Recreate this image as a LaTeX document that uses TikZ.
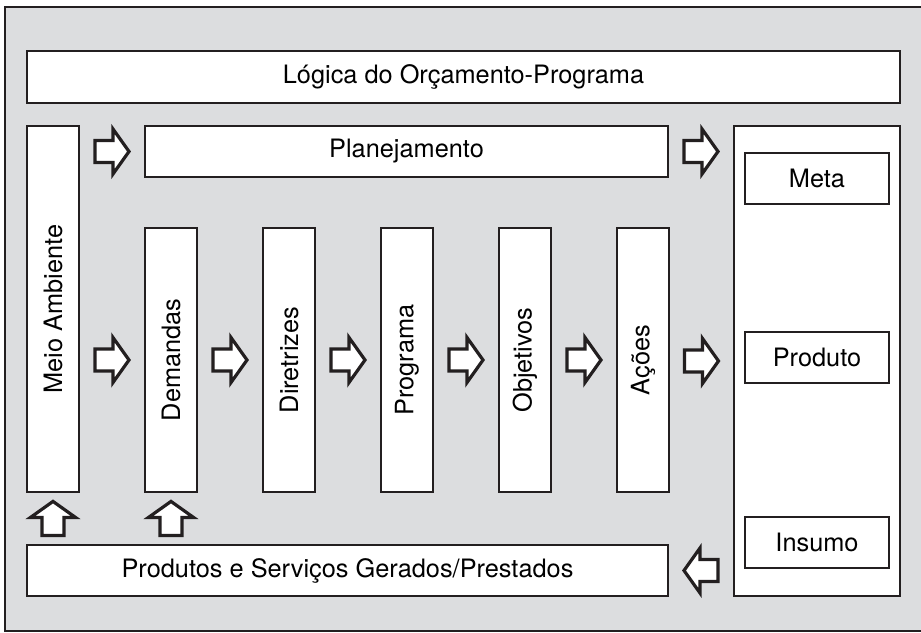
\documentclass[tikz,border=0pt]{standalone}
\usepackage{fontspec}
\setmainfont{TeX Gyre Heros}
\usepackage{graphicx}
\usetikzlibrary{calc}
\definecolor{bggray}{HTML}{DCDDDF}
\definecolor{linegray}{HTML}{231F20}

\tikzset{
  box/.style={draw=linegray, fill=white, line width=1.5pt, inner sep=0pt,
    font=\fontsize{19}{23}\selectfont},
  hbox/.style={box, minimum width=#1, minimum height=38.5pt},
  vbox/.style={box, minimum width=39pt, minimum height=198pt},
  arrowline/.style={draw=linegray, fill=white, line width=2.4pt, line join=miter},
  rarrow/.pic={
    \path[arrowline] (-17,-11) -- (1,-11) -- (1,-22.5) -- (17,0)
      -- (1,22.5) -- (1,11) -- (-17,11) -- cycle;
  }
}

\begin{document}
\begin{tikzpicture}[x=0.75pt, y=-0.75pt]
    \useasboundingbox (0,0) rectangle (921,632);
    % Background frame
    \draw[fill=bggray, draw=linegray, line width=1.5pt] (5,7) rectangle (926,631);

    % Header
    \node[hbox=654.75pt] (logica) at (463.5,77) {Lógica do Orçamento-Programa};

    % Left column and planning bar
    \node[box, minimum width=39pt, minimum height=274.5pt] (meio) at (53,309)
        {\rotatebox{90}{Meio Ambiente}};
    \node[hbox=392.25pt] (plan) at (406.5,151.5) {Planejamento};

    % Chain of vertical boxes
    \foreach \name/\txt [count=\i] in {demandas/Demandas, diretrizes/Diretrizes,
        programa/Programa, objetivos/Objetivos, acoes/Ações}
        \node[vbox] (\name) at (53+118*\i,360) {\rotatebox{90}{\txt}};

    % Right column
    \node[box, minimum width=124.5pt, minimum height=352.5pt] (result) at (817,361) {};
    \node[hbox=108pt] (meta) at (817,178.5) {Meta};
    \node[hbox=108pt] (produto) at (817,357.5) {Produto};
    \node[hbox=108pt] (insumo) at (817,542.5) {Insumo};

    % Bottom bar
    \node[hbox=480.75pt] (produtos) at (347.5,570.5) {Produtos e Serviços Gerados/Prestados};

    % Block arrows
    \pic at ($(meio.east |- plan.west)!0.5!(plan.west)$) {rarrow};
    \pic at ($(plan.east)!0.5!(result.west |- plan.east)$) {rarrow};
    \foreach \a/\b in {meio/demandas, demandas/diretrizes, diretrizes/programa,
        programa/objetivos, objetivos/acoes, acoes/result}
        \pic at ($(\a.east |- \b.west)!0.5!(\b.west)$) {rarrow};
    \foreach \a in {meio, demandas}
        \pic[rotate=90] at ($(\a.south)!0.5!(\a.south |- produtos.north)$) {rarrow};
    \pic[rotate=180] at ($(produtos.east)!0.5!(result.west |- produtos.east)$) {rarrow};
\end{tikzpicture}
\end{document}
